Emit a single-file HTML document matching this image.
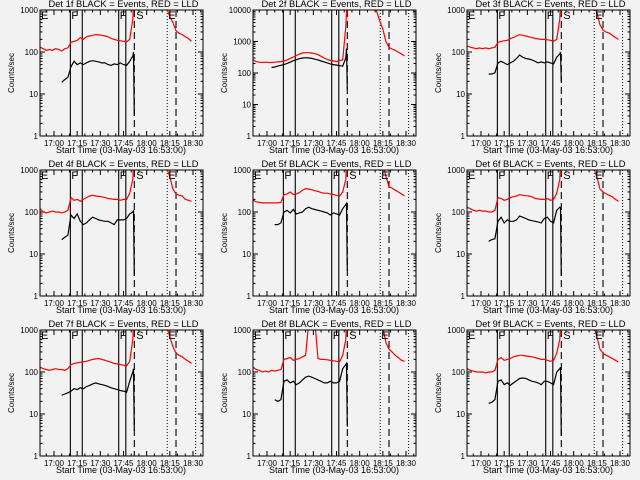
<!DOCTYPE html>
<html><head><meta charset="utf-8"><style>
html,body{margin:0;padding:0;background:#f2f2f2;}
svg{display:block;font-family:"Liberation Sans",sans-serif;}
</style></head><body>
<svg id="fig" width="640" height="480" viewBox="0 0 640 480"></svg>
<script>
// time axis in minutes after 17:00
const times = [-9,-7,-5,-3,-1,1,3,5,7,9, 11,13,15,17,19,21,23,25,27,29,31,33,35,37,39,41,43,45,47,49, 51,51.5,52, 60,69,71, 73,75,77,79,81,83,85,87,89];
const xTickLabels = ["17:00","17:15","17:30","17:45","18:00","18:15","18:30"];
const xTickMinutes = [0,15,30,45,60,75,90];
const detNames = ["1f","2f","3f","4f","5f","6f","7f","8f","9f"];
const decades = [3,4,3,3,3,3,3,3,3];
const N = null;
const red1 = [130,120,110,115,110,120,115,105,120,125, 170,180,190,220,200,230,240,250,260,255,250,240,230,210,200,190,185,180,175,200, 600,1500,3000, N,N,N, 1100,700,500,320,280,260,230,210,180];
const black1 = [N,N,N,N,N,N,N,19,22,25, 45,60,50,55,50,55,60,62,60,58,55,55,50,48,52,50,55,50,48,60, 80,100,3, N,N,N, N,N,N,N,N,N,N,N,N];
const red2 = [260,230,220,215,220,215,215,220,225,230, 240,260,290,320,360,400,430,440,440,430,410,380,340,300,270,250,240,230,250,260, 3000,8000,20000, 20000,12000,9000, 4500,2500,1000,650,580,520,460,400,350];
const black2 = [N,N,N,N,N,N,150,155,165,175, 185,200,220,245,265,285,300,305,300,290,275,260,240,225,210,195,185,180,170,165, 300,600,30, N,N,N, N,N,N,N,N,N,N,N,N];
const red3 = [140,130,125,120,125,120,125,120,125,130, 170,180,185,190,210,220,240,260,250,240,230,220,210,205,200,200,195,190,180,200, 600,1500,3000, N,N,N, 1200,900,450,330,300,280,250,220,200];
const black3 = [N,N,N,N,N,N,N,30,30,32, 55,60,55,50,55,60,70,85,75,70,68,65,60,55,58,55,58,55,52,75, 90,100,20, N,N,N, N,N,N,N,N,N,N,N,N];
const red4 = [120,100,95,100,105,100,100,95,100,110, 220,190,200,180,200,220,240,250,240,235,230,220,210,205,200,200,190,200,200,280, 600,1500,3000, N,N,N, 1100,700,350,270,250,240,200,190,180];
const black4 = [N,N,N,N,N,N,N,22,25,28, 85,70,90,60,50,55,65,75,70,65,62,60,60,55,50,65,65,65,70,90, 100,110,3, N,N,N, N,N,N,N,N,N,N,N,N];
const red5 = [190,175,170,165,165,165,165,165,165,170, 260,270,300,260,270,290,330,360,350,340,320,310,290,280,280,270,260,250,240,300, 600,1500,3000, N,N,N, N,1500,700,400,370,330,300,270,240];
const black5 = [N,N,N,N,N,N,N,50,50,55, 100,110,95,115,90,95,100,120,130,120,115,110,105,100,95,85,95,90,85,120, 150,160,4, N,N,N, N,N,N,N,N,N,N,N,N];
const red6 = [130,120,110,105,110,105,105,100,100,110, 220,210,190,200,220,230,240,260,250,245,240,230,210,205,200,200,210,190,200,280, 600,1500,3000, N,N,N, 1100,700,350,300,270,250,230,200,180];
const black6 = [N,N,N,N,N,N,N,20,22,23, 60,75,55,65,60,60,65,80,75,70,65,62,60,58,55,70,75,60,55,110, 130,130,3, N,N,N, N,N,N,N,N,N,N,N,N];
const red7 = [130,120,115,110,115,120,115,115,110,120, 150,160,165,170,175,180,190,200,205,210,200,190,180,170,160,155,150,145,140,180, 600,1500,3000, N,N,N, 1200,700,400,280,250,230,200,180,160];
const black7 = [N,N,N,N,N,N,N,28,30,32, 35,40,38,42,40,45,48,52,55,52,50,48,45,42,40,38,36,35,33,60, 100,120,4, N,N,N, N,N,N,N,N,N,N,N,N];
const red8 = [130,115,110,100,105,100,110,105,110,115, 200,210,220,190,200,210,230,250,1500,1500,1500,210,200,200,195,190,185,180,175,250, 600,1500,3000, N,N,N, N,1200,500,350,300,250,220,190,180];
const black8 = [N,N,N,N,N,N,N,22,20,22, 60,65,55,60,50,55,65,75,80,75,70,65,60,55,55,60,55,55,60,120, 150,160,5, N,N,N, N,N,N,N,N,N,N,N,N];
const red9 = [120,110,105,100,100,100,95,100,100,110, 200,220,190,200,210,230,240,250,250,240,235,230,220,210,200,200,190,180,190,280, 600,1500,3000, N,N,N, 1200,700,350,280,250,230,210,190,170];
const black9 = [N,N,N,N,N,N,N,18,19,22, 60,65,50,55,48,55,62,70,72,70,65,60,58,55,50,60,60,55,50,100, 120,130,3, N,N,N, N,N,N,N,N,N,N,N,N];
const reds = [red1,red2,red3,red4,red5,red6,red7,red8,red9];
const blacks = [black1,black2,black3,black4,black5,black6,black7,black8,black9];
const solidLines = [10.6,18.3,41.9,46.5];
const dashedLines = [52,79];
const dottedLines = [73.3,91.7];

const NS="http://www.w3.org/2000/svg";
const svg=document.getElementById('fig');
function mk(tag,attrs,parent){const e=document.createElementNS(NS,tag);for(const k in attrs)e.setAttribute(k,attrs[k]);(parent||svg).appendChild(e);return e;}

for(let p=0;p<9;p++){
  const col=p%3,row=Math.floor(p/3);
  const ox=[0,213,427][col], oy=row*160;
  const g=mk('g',{transform:`translate(${ox},${oy})`});
  
  
  const L=40,R=203,T=10,B=136;
  const dec=decades[p];
  const xS=t=>54+(t)*139/90;
  const yS=v=>B-Math.log10(v)/dec*(B-T);
  const cp=mk('clipPath',{id:'c'+p},g);
  mk('rect',{x:L,y:T,width:R-L,height:B-T},cp);
  const tt=mk('text',{x:(L+R)/2+2,y:7,'font-size':'9.5','text-anchor':'middle',fill:'#000',textLength:150,lengthAdjust:'spacingAndGlyphs'},g);
  tt.textContent=`Det ${detNames[p]} BLACK = Events, RED = LLD`;
  
  
  const yl=mk('text',{x:0,y:0,'font-size':'8','text-anchor':'middle',transform:`translate(14,${(T+B)/2}) rotate(-90)`},g);
  yl.textContent='Counts/sec';
  
  
  const xl=mk('text',{x:121,y:153,'font-size':'9','text-anchor':'middle'},g);
  xl.textContent='Start Time (03-May-03 16:53:00)';
  
  
  for(let d=0;d<=dec;d++){
    const y=yS(Math.pow(10,d));
    mk('line',{x1:L,x2:L+5,y1:y,y2:y,stroke:'#000','stroke-width':1},g);
    mk('line',{x1:R,x2:R-5,y1:y,y2:y,stroke:'#000','stroke-width':1},g);
    const lab=mk('text',{x:L-2,y:y+3,'font-size':'8','text-anchor':'end'},g);
    lab.textContent=String(Math.pow(10,d));
    
    
    if(d<dec)for(let m=2;m<10;m++){const ym=yS(m*Math.pow(10,d));
      mk('line',{x1:L,x2:L+2.5,y1:ym,y2:ym,stroke:'#000','stroke-width':1},g);
      mk('line',{x1:R,x2:R-2.5,y1:ym,y2:ym,stroke:'#000','stroke-width':1},g);}
  }
  for(let i=0;i<xTickMinutes.length;i++){
    const x=xS(xTickMinutes[i]);
    mk('line',{x1:x,x2:x,y1:B,y2:B-5,stroke:'#000'},g);
    mk('line',{x1:x,x2:x,y1:T,y2:T+5,stroke:'#000'},g);
    const lab=mk('text',{x:x,y:146,'font-size':'8','text-anchor':'middle'},g);
    lab.textContent=xTickLabels[i];
    
    
  }
  for(let m=-5;m<=95;m+=5){if(m%15===0)continue;const x=xS(m);if(x<L||x>R)continue;
    mk('line',{x1:x,x2:x,y1:B,y2:B-2.5,stroke:'#000'},g);mk('line',{x1:x,x2:x,y1:T,y2:T+2.5,stroke:'#000'},g);}
  const cg=mk('g',{'clip-path':`url(#c${p})`},g);
  solidLines.forEach(t=>mk('line',{x1:xS(t),x2:xS(t),y1:T,y2:B,stroke:'#000','stroke-width':1.1},cg));
  dashedLines.forEach(t=>mk('line',{x1:xS(t),x2:xS(t),y1:T,y2:B,stroke:'#000','stroke-width':1.1,'stroke-dasharray':'7,4'},cg));
  dottedLines.forEach(t=>mk('line',{x1:xS(t),x2:xS(t),y1:T,y2:B,stroke:'#000','stroke-width':1,'stroke-dasharray':'1,2'},cg));
  const draw=(arr,color,name)=>{
    let d='',pen=false;
    for(let i=0;i<times.length;i++){const v=arr[i];
      if(v==null){pen=false;continue;}
      d+=(pen?'L':'M')+xS(times[i]).toFixed(1)+','+yS(v).toFixed(1);pen=true;}
    const pth=mk('path',{d:d,fill:'none',stroke:color,'stroke-width':1.2},cg);
    
    
  };
  draw(reds[p],'#ff0000','lld-series-red');
  draw(blacks[p],'#000000','events-series-black');
  if(p!==1){
    [['E',L+1],['F',xS(10.6)+1],['F',xS(41.9)+1],['S',xS(52)+2],['E',xS(73.3)+1]].forEach(([s,x])=>{
      const t=mk('text',{x:x,y:T+9,'font-size':'11',fill:'#000'},g);t.textContent=s;
      
      });
  }
  mk('rect',{x:L,y:T,width:R-L,height:B-T,fill:'none',stroke:'#000','stroke-width':1},g);
}
</script>
</body></html>
